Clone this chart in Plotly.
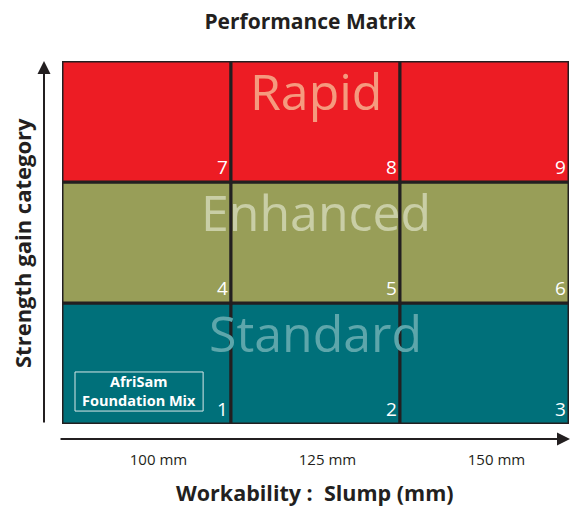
import plotly.graph_objects as go

# ---- data ----
columns = ["100 mm", "125 mm", "150 mm"]           # workability (slump)
rows = ["Standard", "Enhanced", "Rapid"]            # strength gain category (bottom -> top)
row_colors = ["#00707A", "#989E58", "#ED1C24"]
label_colors = ["#5DA6AB", "#C9CEA6", "#F59A7E"]
cell_numbers = [[1, 2, 3], [4, 5, 6], [7, 8, 9]]
highlight_label = "AfriSam<br>Foundation Mix"
highlight_cell = (0, 0)  # (row, col)

title_text = "Performance Matrix"
x_title = "Workability :  Slump (mm)"
y_title = "Strength gain category"

FONT = "Open Sans"
BORDER = "#231F20"

fig = go.Figure()
shapes = []
annotations = []

for r, row_name in enumerate(rows):
    for c, col_name in enumerate(columns):
        shapes.append(dict(type="rect", xref="x", yref="y",
                           x0=c, x1=c + 1, y0=r, y1=r + 1,
                           fillcolor=row_colors[r],
                           line=dict(color=BORDER, width=3), layer="below"))
        annotations.append(dict(xref="x", yref="y", x=c + 0.947, y=r + 0.125,
                                text=str(cell_numbers[r][c]), showarrow=False,
                                font=dict(family=FONT, size=19, color="white"),
                                xanchor="center", yanchor="middle"))
    annotations.append(dict(xref="x", yref="y", x=1.5, y=r + 0.75,
                            text=row_name, showarrow=False,
                            font=dict(family=FONT, size=50, color=label_colors[r]),
                            xanchor="center", yanchor="middle"))

hr, hc = highlight_cell
shapes.append(dict(type="rect", xref="x", yref="y",
                   x0=hc + 0.077, x1=hc + 0.835, y0=hr + 0.107, y1=hr + 0.43,
                   line=dict(color="#D8E8E8", width=1), fillcolor="rgba(0,0,0,0)"))
annotations.append(dict(xref="x", yref="y", x=hc + 0.456, y=hr + 0.27,
                        text="<b>" + highlight_label + "</b>", showarrow=False,
                        font=dict(family=FONT, size=14.5, color="white"),
                        xanchor="center", yanchor="middle", align="center"))

# axis arrows
annotations.append(dict(xref="paper", yref="paper", x=-0.0355, y=1.0,
                        ax=0, ay=363, axref="pixel", ayref="pixel", text="",
                        showarrow=True, arrowhead=2, arrowsize=1.3, arrowwidth=2,
                        arrowcolor=BORDER, standoff=0, startstandoff=0))
annotations.append(dict(xref="paper", yref="paper", x=1.004, y=-0.0413,
                        ax=-512, ay=0, axref="pixel", ayref="pixel", text="",
                        showarrow=True, arrowhead=2, arrowsize=1.3, arrowwidth=2,
                        arrowcolor=BORDER, standoff=0, startstandoff=0))

# axis titles
annotations.append(dict(xref="paper", yref="paper", x=0.499, y=-0.19,
                        text="<b>" + x_title + "</b>", showarrow=False,
                        font=dict(family=FONT, size=21.5, color="#231F20"),
                        xanchor="center", yanchor="middle"))
annotations.append(dict(xref="paper", yref="paper", x=-0.0789, y=0.4986,
                        text="<b>" + y_title + "</b>", showarrow=False, textangle=-90,
                        font=dict(family=FONT, size=22, color="#231F20"),
                        xanchor="center", yanchor="middle"))

fig.update_layout(
    width=571, height=506,
    margin=dict(l=62, r=2, t=61, b=82),
    paper_bgcolor="white", plot_bgcolor="white",
    title=dict(text="<b>" + title_text + "</b>", x=0.543, xanchor="center",
               y=1 - 22 / 506, yanchor="middle",
               font=dict(family=FONT, size=21, color="#231F20")),
    shapes=shapes, annotations=annotations,
    showlegend=False,
    xaxis=dict(range=[0, 3], tickvals=[0.5, 1.5, 2.5], ticktext=columns,
               showgrid=False, zeroline=False, showline=False, ticks="",
               tickfont=dict(family=FONT, size=15, color="#231F20"),
               ticklabelstandoff=25, ticklabelshift=12, fixedrange=True),
    yaxis=dict(range=[0, 3], showticklabels=False, showgrid=False,
               zeroline=False, showline=False, ticks="", fixedrange=True),
)

fig.write_html("out.html", config={"displayModeBar": False},
               post_script="document.body.style.margin='0';")
